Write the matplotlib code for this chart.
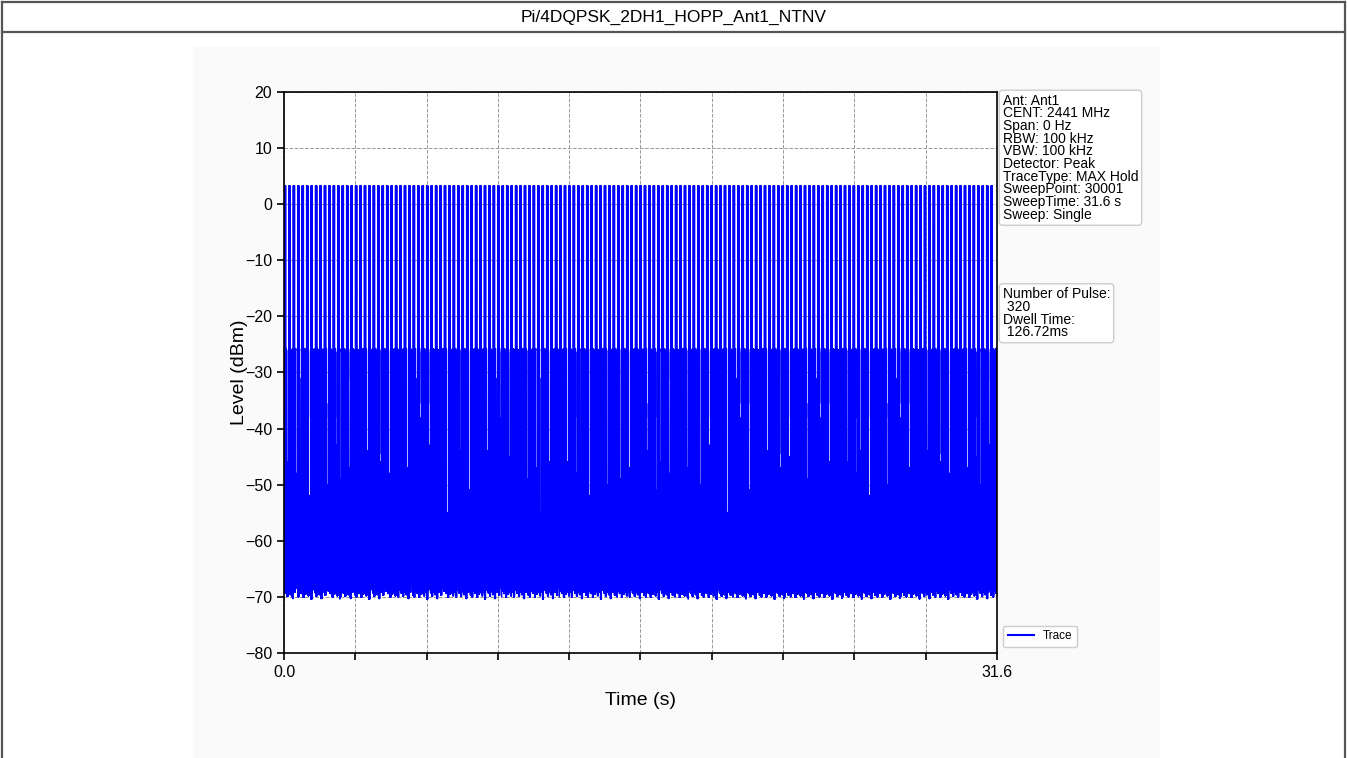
import numpy as np
import matplotlib
matplotlib.use("Agg")
import matplotlib.pyplot as plt
from matplotlib.lines import Line2D
from matplotlib.patches import Rectangle

plt.rcParams["font.family"] = ["Liberation Sans", "DejaVu Sans"]

# values
title = "Pi/4DQPSK_2DH1_HOPP_Ant1_NTNV"
sweep_time = 31.6        # s
sweep_points = 30001
pulse_count = 320
pulse_level = 3.3        # dBm, top of the on-channel bursts
# off-channel hop levels (top of the dense band sits near -26 dBm)
band_levels = [-25.7, -38.0, -26.1, -44.5, -25.9, -31.0, -26.3, -35.5, -25.8]
# bottom edge of the trace, roughly one value per pixel column
floor_levels = [-68.6, -69.3, -68.8, -69.9, -68.2, -69.1, -69.6, -68.4, -70.3,
                -68.9, -69.2, -67.9, -69.7, -68.5, -70.0, -69.0, -68.1, -69.4,
                -68.7, -70.1, -68.3, -69.5, -67.7, -69.1, -69.8, -68.5, -69.2,
                -70.4, -68.8]
# white gaps seen inside the dense band (-26 = no gap)
gap_levels = [-46, -26, -48, -44, -26, -52, -47, -26, -45, -50, -26, -43,
              -49, -26, -47, -55, -26, -46, -44, -26, -51]
# white notches rising from the bottom edge (-70 = none)
notch_levels = [-70, -70, -63, -70, -70, -70, -58, -70, -70, -66, -70, -70, -70]
y_ticks = list(range(-80, 21, 10))
x_tick_labels = ["0.0", "", "", "", "", "", "", "", "", "", "31.6"]
info_lines = ["Ant: Ant1", "CENT: 2441 MHz", "Span: 0 Hz", "RBW: 100 kHz",
              "VBW: 100 kHz", "Detector: Peak", "TraceType: MAX Hold",
              "SweepPoint: 30001", "SweepTime: 31.6 s", "Sweep: Single"]
pulse_lines = ["Number of Pulse:", " 320", "Dwell Time:", " 126.72ms"]

# build the trace
t = np.linspace(0, sweep_time, sweep_points)
level = np.empty(sweep_points)
level[1::2] = np.resize(band_levels, level[1::2].size)
level[0::2] = np.resize(np.repeat(floor_levels, 21), level[0::2].size)

n_stripes = pulse_count // 2
period = sweep_points // n_stripes
for k in range(n_stripes):
    start = k * period
    level[start + 15] = pulse_level
    level[start + 70] = pulse_level
    g = gap_levels[k % len(gap_levels)]
    win = slice(start + 100, start + 185)
    level[win] = np.minimum(level[win], g)
    n = notch_levels[k % len(notch_levels)]
    win = slice(start + 110, start + 175)
    level[win] = np.maximum(level[win], n)

fig = plt.figure(figsize=(13.48, 7.58), dpi=100)
fig.patch.set_facecolor("white")

# light panel behind the plot
fig.add_artist(Rectangle((193 / 1348, 0), (1160 - 193) / 1348, (758 - 47) / 758,
                         transform=fig.transFigure, facecolor="#fafafa",
                         edgecolor="none", zorder=-2))
# table frame
frame = dict(color="#555555", lw=1.6, transform=fig.transFigure)
fig.add_artist(Line2D([0.0015, 0.9978], [0.9974, 0.9974], **frame))
fig.add_artist(Line2D([0.0015, 0.9978], [0.9578, 0.9578], **frame))
fig.add_artist(Line2D([0.0015, 0.0015], [0, 0.9974], **frame))
fig.add_artist(Line2D([0.9978, 0.9978], [0, 0.9974], **frame))
fig.text(0.5, 0.9776, title, ha="center", va="center", fontsize=12.5)

ax = fig.add_axes([284 / 1348, (758 - 653) / 758, (997 - 284) / 1348, (653 - 92) / 758])
ax.set_facecolor("white")
ax.plot(t, level, color="blue", lw=0.9, label="Trace")

ax.set_xlim(0, sweep_time)
ax.set_ylim(-80, 20)
ax.set_yticks(y_ticks)
ax.set_xticks(np.linspace(0, sweep_time, 11))
ax.set_xticklabels(x_tick_labels)
ax.tick_params(labelsize=11.5, length=5, width=1.2)
ax.grid(True, linestyle="--", color="#999999", lw=0.7)
for s in ax.spines.values():
    s.set_linewidth(1.2)
ax.set_xlabel("Time (s)", fontsize=14, labelpad=9)
ax.set_ylabel("Level (dBm)", fontsize=14, labelpad=-2)

box = dict(boxstyle="round,pad=0.25", facecolor="white", edgecolor="#cccccc")
ax.text(1.008, 0.997, "\n".join(info_lines), transform=ax.transAxes,
        fontsize=10, va="top", ha="left", linespacing=0.88, bbox=box)
ax.text(1.008, 0.652, "\n".join(pulse_lines), transform=ax.transAxes,
        fontsize=10, va="top", ha="left", linespacing=0.88, bbox=box)

leg = ax.legend(loc="lower left", bbox_to_anchor=(1.0, 0.0), fontsize=8.5,
                framealpha=1, edgecolor="#cccccc", handlelength=2.2)
leg.get_lines()[0].set_linewidth(1.5)

fig.savefig("out.png", dpi=100)
